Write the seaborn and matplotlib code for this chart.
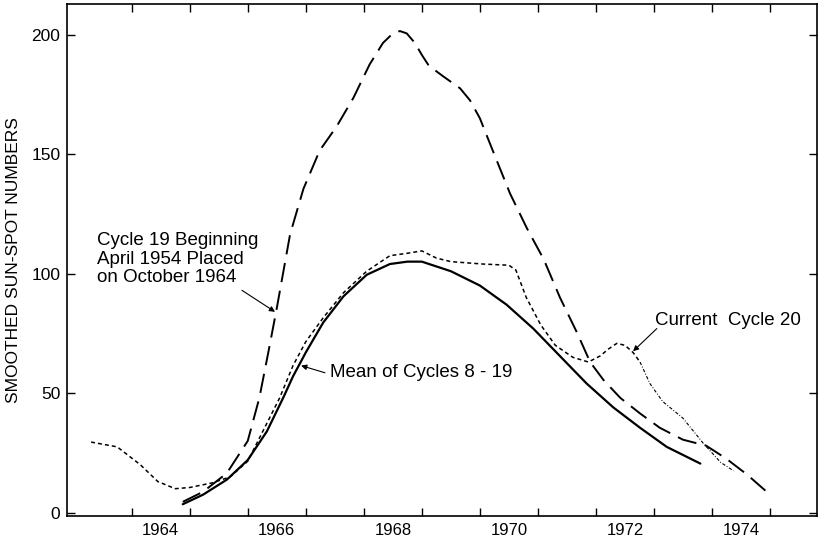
import numpy as np
import pandas as pd
import matplotlib
matplotlib.use("Agg")
import matplotlib.pyplot as plt
import seaborn as sns

# ---------------- data ----------------
years_c20 = [1963.30, 1963.75, 1964.15, 1964.45, 1964.75, 1965.00, 1965.40, 1965.70,
             1966.00, 1966.27, 1966.55, 1966.78, 1967.00, 1967.30, 1967.65, 1968.05,
             1968.45, 1968.75, 1969.00, 1969.25, 1969.50, 1970.05, 1970.50, 1970.62,
             1970.80, 1971.05, 1971.30, 1971.60, 1971.87, 1972.07, 1972.22, 1972.36,
             1972.50, 1972.64, 1972.76, 1972.93, 1973.15, 1973.50, 1973.85, 1974.15,
             1974.37]
cycle20 = [29.5, 27.5, 20.0, 13.0, 10.0, 10.5, 12.5, 15.0,
           21.5, 34.5, 48.0, 61.5, 71.5, 81.5, 92.0, 101.0,
           107.5, 108.5, 109.5, 106.5, 105.0, 104.0, 103.5, 101.5,
           90.0, 78.5, 70.0, 65.0, 63.0, 65.5, 68.5, 70.8,
           70.0, 67.0, 63.0, 54.0, 46.5, 39.5, 29.0, 21.0,
           17.5]

years_mean = [1964.88, 1965.23, 1965.64, 1966.00, 1966.33, 1966.62, 1966.78, 1967.00,
              1967.30, 1967.65, 1968.05, 1968.45, 1968.75, 1969.00, 1969.50, 1970.00,
              1970.46, 1970.92, 1971.38, 1971.84, 1972.30, 1972.76, 1973.22, 1973.80]
mean_8_19 = [3.5, 7.5, 13.8, 22.0, 34.0, 48.5, 57.0, 67.0,
             79.5, 90.5, 99.5, 104.0, 105.0, 105.0, 101.0, 95.0,
             87.0, 77.0, 65.5, 54.0, 44.0, 35.5, 27.5, 20.5]

years_c19 = [1964.88, 1965.23, 1965.64, 1966.00, 1966.20, 1966.35, 1966.50, 1966.73,
             1966.96, 1967.24, 1967.53, 1967.82, 1968.10, 1968.33, 1968.48, 1968.62,
             1968.74, 1968.88, 1969.00, 1969.12, 1969.37, 1969.66, 1969.83, 1970.00,
             1970.23, 1970.52, 1970.81, 1971.10, 1971.38, 1971.67, 1971.90, 1972.13,
             1972.42, 1972.76, 1973.10, 1973.50, 1973.90, 1974.25, 1974.60, 1975.00]
cycle19 = [4.5, 8.7, 16.5, 30.0, 48.0, 66.5, 85.5, 116.5,
           135.5, 151.5, 161.5, 173.5, 187.5, 196.5, 200.0, 201.5,
           200.5, 196.5, 191.5, 187.0, 182.5, 177.5, 172.5, 165.0,
           151.0, 133.5, 119.0, 106.0, 90.0, 75.5, 63.0, 55.5,
           48.0, 41.5, 35.5, 30.5, 28.0, 22.5, 16.0, 7.5]

year_labels = ["1964", "1966", "1968", "1970", "1972", "1974"]
year_label_pos = [1964.5, 1966.5, 1968.5, 1970.5, 1972.5, 1974.5]
year_ticks = list(range(1964, 1976))
y_ticks = [0, 50, 100, 150, 200]

# ---------------- styling ----------------
sns.set_theme(style="white")
plt.rcParams["font.family"] = ["Liberation Sans", "DejaVu Sans"]

fig = plt.figure(figsize=(8.21, 5.41), dpi=100)
ax = fig.add_axes([67.3 / 821, 1 - 515.7 / 541, (817.3 - 67.3) / 821, (515.7 - 4) / 541])

df20 = pd.DataFrame({"year": years_c20, "value": cycle20})
dfm = pd.DataFrame({"year": years_mean, "value": mean_8_19})
df19 = pd.DataFrame({"year": years_c19, "value": cycle19})

sns.lineplot(data=dfm, x="year", y="value", ax=ax, color="black", linewidth=1.6, sort=False)
sns.lineplot(data=df19, x="year", y="value", ax=ax, color="black", linewidth=1.4, sort=False)
early = df20[df20["year"] <= 1972.8]
late = df20[df20["year"] >= 1972.76]
sns.lineplot(data=early, x="year", y="value", ax=ax, color="black", linewidth=1.1, sort=False)
sns.lineplot(data=late, x="year", y="value", ax=ax, color="black", linewidth=0.8, sort=False)

lines = ax.get_lines()
lines[1].set_dashes([10, 4.5])
lines[2].set_dashes([2.6, 2.0])
lines[3].set_dashes([3.0, 1.6, 0.8, 1.6])

# axes limits and ticks
x0 = 1964 - (131.7 - 67.3) / 58.03
x1 = 1975 + (817.3 - 770.0) / 58.03
ax.set_xlim(x0, x1)
ax.set_ylim(-1.3, 212.8)

ax.set_xticks(year_ticks)
ax.set_xticklabels([""] * len(year_ticks))
ax.set_xticks(year_label_pos, minor=True)
ax.set_xticklabels(year_labels, minor=True)
ax.set_yticks(y_ticks)
ax.set_yticklabels([str(v) for v in y_ticks])

ax.tick_params(axis="x", which="major", direction="in", length=6, width=1.0,
               top=True, bottom=True, color="black")
ax.tick_params(axis="x", which="minor", length=0, labelsize=12, pad=5, colors="black")
ax.tick_params(axis="y", which="major", direction="in", length=6, width=1.0,
               left=True, right=True, labelsize=12.5, pad=5, color="black", labelcolor="black")

for s in ax.spines.values():
    s.set_color("black")
    s.set_linewidth(1.2)

ax.set_xlabel("")
ax.set_ylabel("SMOOTHED SUN-SPOT NUMBERS", fontsize=12.5, color="black")
ax.yaxis.set_label_coords((21 - 67.3) / 750.0, 0.5)

# annotations
txt_kw = dict(fontsize=13.5, color="black", ha="left", va="center")
arrow_kw = dict(arrowstyle="-|>", color="black", lw=0.8, mutation_scale=8,
                shrinkA=0, shrinkB=0)

ax.text(1963.4, 106.0, "Cycle 19 Beginning\nApril 1954 Placed\non October 1964",
        linespacing=1.1, **txt_kw)
ax.annotate("", xy=(1966.47, 84.0), xytext=(1965.9, 93.0), arrowprops=arrow_kw)

ax.text(1967.42, 58.5, "Mean of Cycles 8 - 19", **txt_kw)
ax.annotate("", xy=(1966.92, 61.5), xytext=(1967.33, 58.5), arrowprops=arrow_kw)

ax.text(1973.02, 80.3, "Current  Cycle 20", **txt_kw)
ax.annotate("", xy=(1972.64, 67.5), xytext=(1973.05, 77.0), arrowprops=arrow_kw)

fig.savefig("out.png", dpi=100)
